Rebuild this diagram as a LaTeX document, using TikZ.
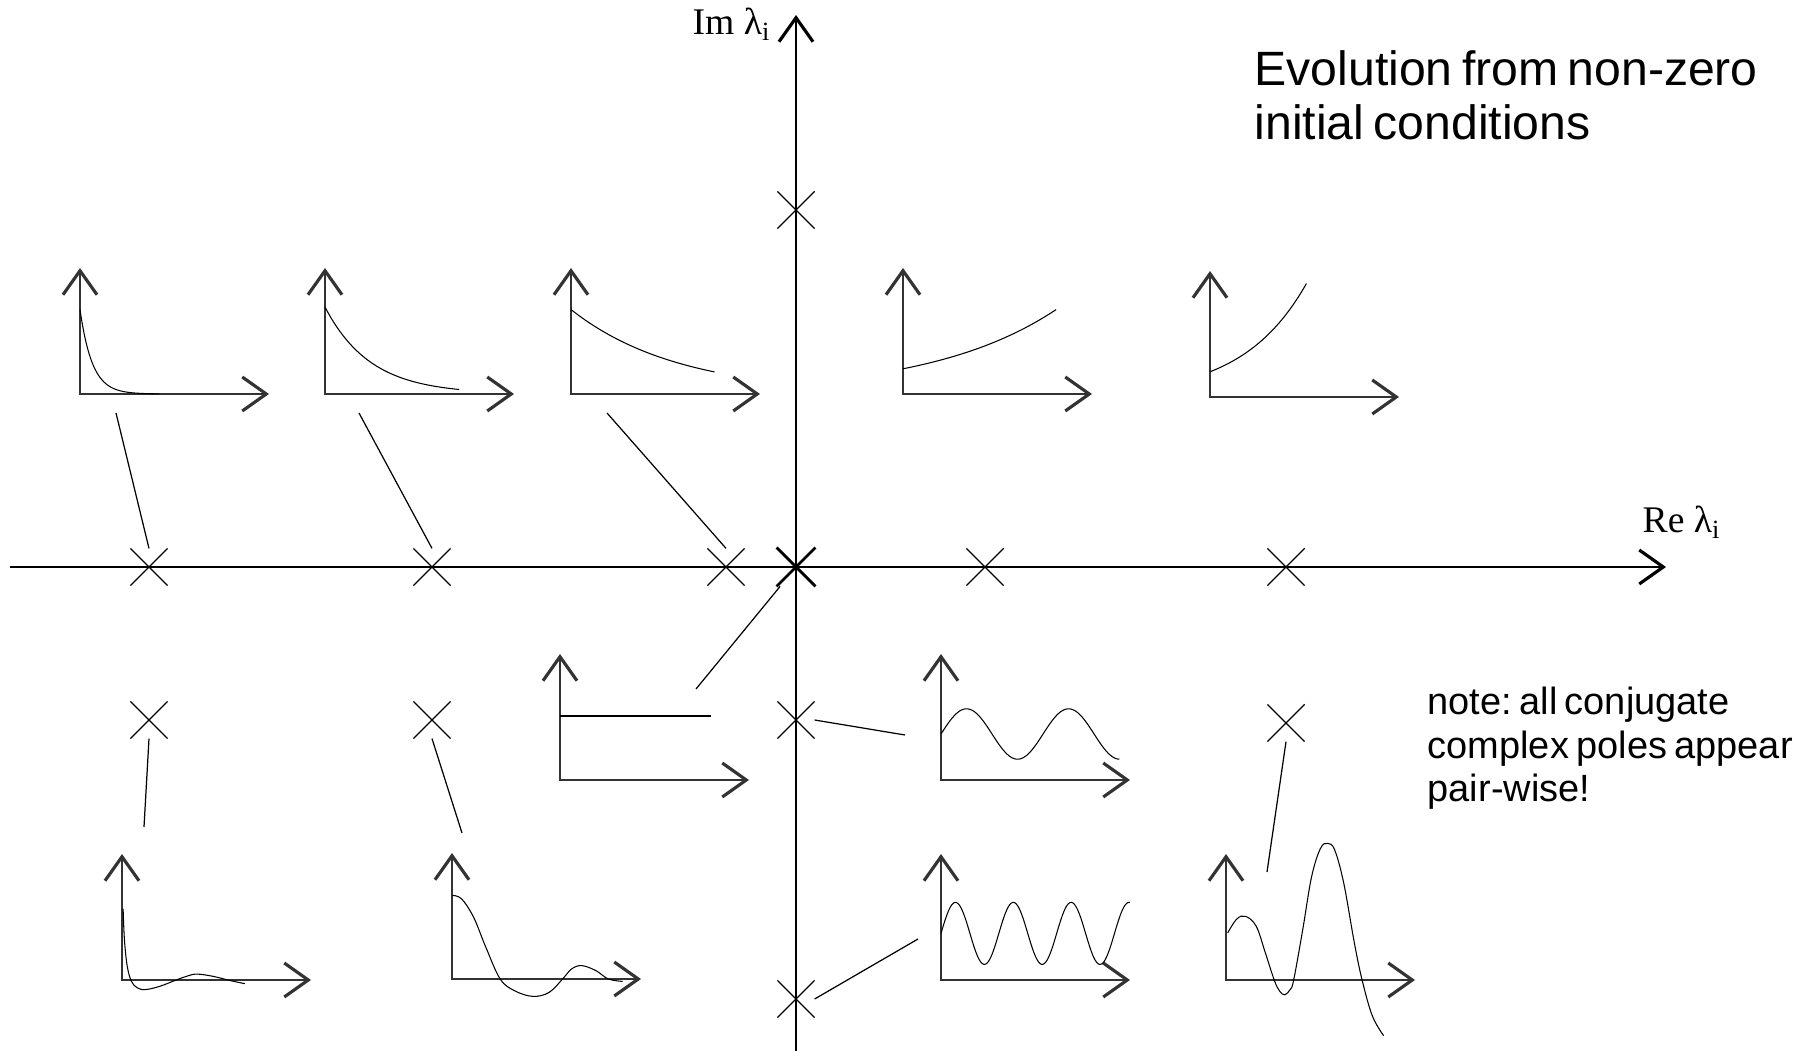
\documentclass[tikz,border=0pt]{standalone}
\usepackage{fontspec}
\setmainfont{Liberation Serif}
\newfontfamily\arialfont[WordSpace=0.7]{Liberation Sans}
\frenchspacing
\usetikzlibrary{arrows.meta,shapes.misc}
\pgfdeclarelayer{edgelayer}
\pgfdeclarelayer{nodelayer}
\pgfsetlayers{edgelayer,nodelayer,main}
\tikzset{>={Straight Barb[length=2.4mm,width=3.4mm,line width=0.9pt]}}
\tikzstyle{pole}=[draw=black, cross out, minimum size=3.6mm, inner sep=0pt, line width=0.35pt]
\tikzstyle{mainaxis}=[draw=black, line width=0.45pt, ->]
\tikzstyle{miniaxis}=[draw=black!80, line width=0.45pt, <->]
\tikzstyle{miniplot}=[x=18.9mm, y=12.6mm]
\tikzstyle{response}=[draw=black, line width=0.3pt]
\tikzstyle{link}=[draw=black, line width=0.35pt]
\tikzstyle{axislabel}=[inner sep=0pt, font=\fontsize{10.7}{13}\selectfont]
\tikzstyle{heading}=[inner sep=0pt, align=left, font=\arialfont\fontsize{13.7}{15.6}\selectfont]
\tikzstyle{remark}=[inner sep=0pt, align=left, font=\arialfont\fontsize{10.8}{12.5}\selectfont]

\begin{document}
\begin{tikzpicture}[x=0.1mm, y=-0.1mm]
	\useasboundingbox (0,0) rectangle (1800,1051);
	\begin{pgfonlayer}{nodelayer}
		% poles
		\node [style=pole] (p1) at (149, 567) {};
		\node [style=pole] (p2) at (432, 567) {};
		\node [style=pole] (p3) at (726, 567) {};
		\node [style=pole, line width=0.8pt] (p0) at (796, 567) {};
		\node [style=pole] (p4) at (985, 567) {};
		\node [style=pole] (p5) at (1286, 567) {};
		\node [style=pole] (p6) at (796, 210) {};
		\node [style=pole] (p7) at (149, 720) {};
		\node [style=pole] (p8) at (432, 720) {};
		\node [style=pole] (p9) at (796, 720) {};
		\node [style=pole] (p10) at (1286, 723) {};
		\node [style=pole] (p11) at (796, 999) {};
		% labels
		\node [style=axislabel, anchor=base west] (imlabel) at (692, 35) {Im λ\textsubscript{i}};
		\node [style=axislabel, anchor=base west] (relabel) at (1642, 533) {Re λ\textsubscript{i}};
		\node [style=heading, anchor=base west] (title) at (1254, 140) {Evolution from non-zero\\initial conditions};
		\node [style=remark, anchor=base west] (note) at (1427, 802) {note: all conjugate\\complex poles appear\\pair-wise!};
	\end{pgfonlayer}
	\begin{pgfonlayer}{edgelayer}
		\coordinate (reW) at (10, 567);
		\coordinate (reE) at (1666, 567);
		\coordinate (imS) at (796, 1051);
		\coordinate (imN) at (796, 15);
		\draw [style=mainaxis] (reW) to (reE);
		\draw [style=mainaxis] (imS) to (imN);
		\coordinate (cA) at (116, 413);
		\coordinate (cB) at (359, 413);
		\coordinate (cC) at (607, 413);
		\coordinate (cF) at (696, 689);
		\coordinate (cG) at (905, 735);
		\coordinate (cH) at (144, 827);
		\coordinate (cI) at (462, 833);
		\coordinate (cJ) at (918, 939);
		\coordinate (cK) at (1267, 872);
		\draw [style=link] (cA) to (p1.north);
		\draw [style=link] (cB) to (p2.north);
		\draw [style=link] (cC) to (p3.north);
		\draw [style=link] (cF) to (p0);
		\draw [style=link] (p9.east) to (cG);
		\draw [style=link] (p7.south) to (cH);
		\draw [style=link] (p8.south) to (cI);
		\draw [style=link] (p11.east) to (cJ);
		\draw [style=link] (p10.south) to (cK);
	\end{pgfonlayer}
	% time responses
	\begin{scope}[shift={(80, 394)}, style=miniplot]
		\draw [style=miniaxis] (0, 1) -- (0, 0) -- (1, 0);
		\draw [style=response] plot [domain=0:0.42, samples=80] (\x, {0.67*exp(-\x/0.065)});
	\end{scope}
	\begin{scope}[shift={(325, 394)}, style=miniplot]
		\draw [style=miniaxis] (0, 1) -- (0, 0) -- (1, 0);
		\draw [style=response] plot [domain=0:0.71, samples=60] (\x, {0.69*exp(-\x/0.24)});
	\end{scope}
	\begin{scope}[shift={(571, 394)}, style=miniplot]
		\draw [style=miniaxis] (0, 1) -- (0, 0) -- (1, 0);
		\draw [style=response] plot [domain=0:0.76, samples=40] (\x, {0.67*exp(-\x/0.566)});
	\end{scope}
	\begin{scope}[shift={(903, 394)}, style=miniplot]
		\draw [style=miniaxis] (0, 1) -- (0, 0) -- (1, 0);
		\draw [style=response] plot [domain=0:0.81, samples=40] (\x, {0.2*exp(\x/0.67)});
	\end{scope}
	\begin{scope}[shift={(1210, 397)}, style=miniplot]
		\draw [style=miniaxis] (0, 1) -- (0, 0) -- (1, 0);
		\draw [style=response] plot [domain=0:0.51, samples=40] (\x, {0.2*exp(\x/0.339)});
	\end{scope}
	\begin{scope}[shift={(560, 780)}, style=miniplot]
		\draw [style=miniaxis] (0, 1) -- (0, 0) -- (1, 0);
		\draw [style=response] (0, 0.508) -- (0.8, 0.508);
	\end{scope}
	\begin{scope}[shift={(941, 780)}, style=miniplot]
		\draw [style=miniaxis] (0, 1) -- (0, 0) -- (1, 0);
		\draw [style=response] plot [domain=0:0.945, samples=120] (\x, {0.365+0.2*sin(\x*666.67)});
	\end{scope}
	\begin{scope}[shift={(122, 980)}, style=miniplot]
		\draw [style=miniaxis] (0, 1) -- (0, 0) -- (1, 0);
		\draw [style=response] plot [smooth, tension=0.6] coordinates {(0.006,0.564) (0.013,0.316) (0.028,0.107) (0.05,-0.01) (0.082,-0.063) (0.125,-0.076) (0.2,-0.05) (0.287,0) (0.341,0.029) (0.395,0.047) (0.482,0.029) (0.568,-0.003) (0.65,-0.029)};
	\end{scope}
	\begin{scope}[shift={(452, 979)}, style=miniplot]
		\draw [style=miniaxis] (0, 1) -- (0, 0) -- (1, 0);
		\draw [style=response] plot [smooth, tension=0.6] coordinates {(0,0.663) (0.05,0.637) (0.114,0.491) (0.179,0.252) (0.255,0) (0.331,-0.093) (0.428,-0.138) (0.514,-0.106) (0.585,0) (0.633,0.08) (0.687,0.106) (0.762,0.066) (0.827,0) (0.903,-0.019)};
	\end{scope}
	\begin{scope}[shift={(941, 980)}, style=miniplot]
		\draw [style=miniaxis] (0, 1) -- (0, 0) -- (1, 0);
		\draw [style=response] plot [domain=0:1, samples=200] (\x, {0.37+0.246*sin(\x*1176.5)});
	\end{scope}
	\begin{scope}[shift={(1226, 980)}, style=miniplot]
		\draw [style=miniaxis] (0, 1) -- (0, 0) -- (1, 0);
		\draw [style=response] plot [smooth, tension=0.6] coordinates {(0.009,0.374) (0.057,0.484) (0.104,0.505) (0.16,0.426) (0.208,0.216) (0.255,0) (0.283,-0.087) (0.311,-0.118) (0.34,-0.074) (0.358,0) (0.406,0.4) (0.453,0.821) (0.5,1.045) (0.538,1.084) (0.575,1.032) (0.623,0.768) (0.679,0.295) (0.72,0) (0.774,-0.284) (0.834,-0.442)};
	\end{scope}
\end{tikzpicture}
\end{document}
